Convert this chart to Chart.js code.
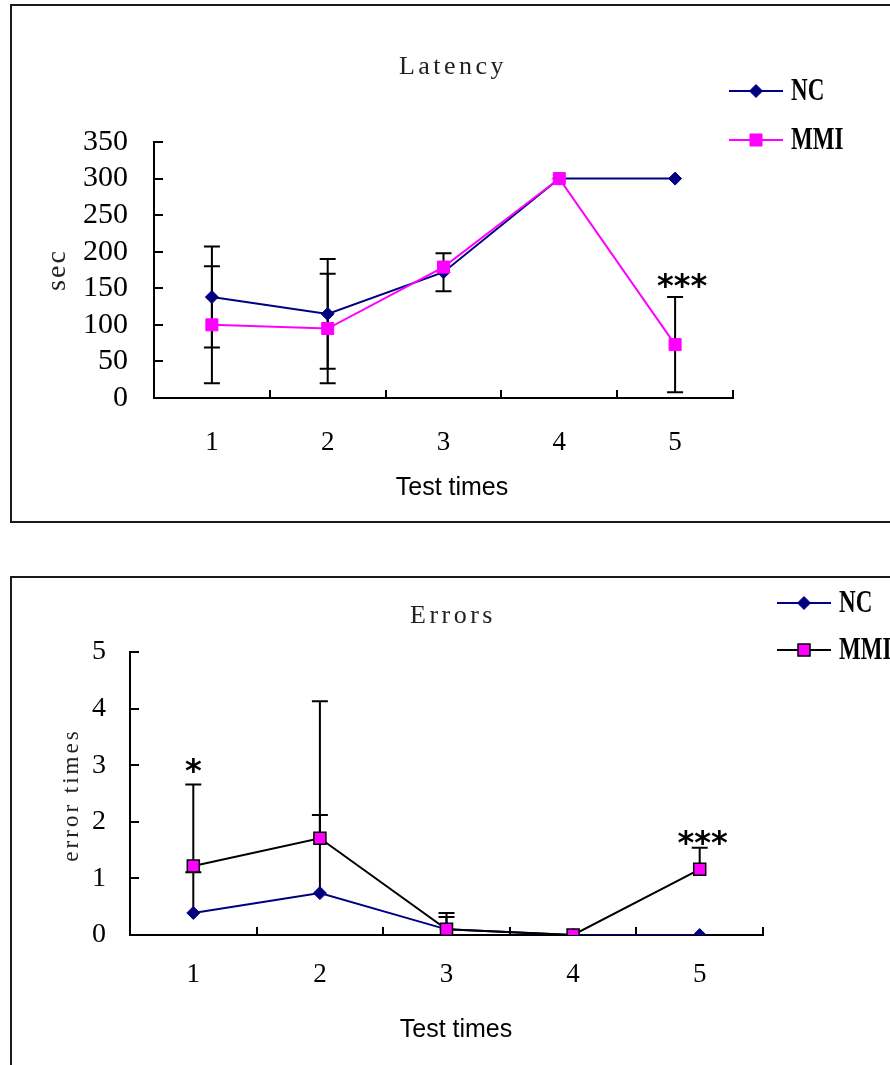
<!DOCTYPE html>
<html>
<head>
<meta charset="utf-8">
<script src="https://cdn.jsdelivr.net/npm/chart.js@4.4.0/dist/chart.umd.min.js"></script>
<style>
  body { margin: 0; background: #fff; overflow: hidden; }
  .box { position: absolute; left: 10px; width: 900px; box-sizing: border-box; border: 2px solid #1a1a1a; }
  canvas { display: block; }
</style>
</head>
<body>
<div class="box" style="top:4px;height:519px"><canvas id="latency" width="878" height="513"></canvas></div>
<div class="box" style="top:576px;height:520px"><canvas id="errors" width="878" height="489"></canvas></div>
<script>
// Datos
const testTimes = ['1', '2', '3', '4', '5'];

// Latency (sec)
const latNC = [138, 115, 172, 300, 300];
const latMMI = [100, 95, 179, 300, 73];
const latNCerr = [69, 75, 26, 0, 0];
const latMMIerr = [80, 75, 0, 0, 65];

// Errors (error times)
const errNC = [0.39, 0.74, 0.1, 0, 0];
const errMMI = [1.22, 1.71, 0.1, 0, 1.16];
const errNCerr = [0.72, 1.38, 0.22, 0, 0];
const errMMIerr = [1.44, 2.42, 0.29, 0, 0.38];

const NAVY = '#000080';
const MAGENTA = '#ff00ff';

// plugin: barras de error, titulos, leyenda y asteriscos
const decor = {
    id: 'decor',
    beforeDatasetsDraw(chart, args, opts) {
        const { ctx, chartArea, scales: { x, y } } = chart;
        ctx.save();
        ctx.beginPath();
        ctx.rect(chartArea.left, chartArea.top - 4, chartArea.width, chartArea.height + 4);
        ctx.clip();
        ctx.strokeStyle = '#000';
        ctx.lineWidth = 2;
        opts.errors.forEach((errs, di) => {
            const vals = chart.data.datasets[di].data;
            errs.forEach((e, i) => {
                if (!e) return;
                const px = x.getPixelForValue(i);
                const top = y.getPixelForValue(vals[i] + e);
                const bot = opts.plusOnly ? y.getPixelForValue(vals[i]) : y.getPixelForValue(vals[i] - e);
                ctx.beginPath();
                ctx.moveTo(px, top); ctx.lineTo(px, bot);
                ctx.moveTo(px - 8, top); ctx.lineTo(px + 8, top);
                if (!opts.plusOnly) { ctx.moveTo(px - 8, bot); ctx.lineTo(px + 8, bot); }
                ctx.stroke();
            });
        });
        ctx.restore();
    },
    afterDraw(chart, args, opts) {
        const { ctx, scales: { x, y } } = chart;
        ctx.save();
        ctx.textAlign = 'center';
        ctx.textBaseline = 'middle';

        // titulo
        ctx.save();
        ctx.fillStyle = '#222';
        ctx.font = '26px "Liberation Serif"';
        ctx.letterSpacing = '3.5px';
        ctx.fillText(opts.title.text, opts.title.x, opts.title.y);
        ctx.restore();

        // titulos de ejes
        ctx.fillStyle = '#000';
        ctx.font = '25px "Liberation Sans"';
        ctx.fillText('Test times', opts.xTitle.x, opts.xTitle.y);
        ctx.save();
        ctx.translate(opts.yTitle.x, opts.yTitle.y);
        ctx.rotate(-Math.PI / 2);
        ctx.fillStyle = '#222';
        ctx.font = opts.yTitle.size + 'px "Liberation Serif"';
        ctx.letterSpacing = opts.yTitle.spacing + 'px';
        ctx.fillText(opts.yTitle.text, 0, 0);
        ctx.restore();

        // leyenda
        chart.data.datasets.forEach((ds, i) => {
            const ly = opts.legend.y + i * opts.legend.gap;
            const lx = opts.legend.x;
            ctx.strokeStyle = ds.borderColor;
            ctx.lineWidth = 2;
            ctx.beginPath();
            ctx.moveTo(lx, ly); ctx.lineTo(lx + 54, ly);
            ctx.stroke();
            ctx.fillStyle = ds.pointBackgroundColor;
            ctx.strokeStyle = ds.pointBorderColor;
            ctx.lineWidth = ds.pointBorderWidth;
            Chart.helpers.drawPoint(ctx, {
                pointStyle: ds.pointStyle, radius: ds.pointRadius,
                rotation: 0, borderWidth: ds.pointBorderWidth
            }, lx + 27, ly);
            ctx.save();
            ctx.translate(lx + 62, ly);
            ctx.scale(0.72, 1);
            ctx.fillStyle = '#000';
            ctx.textAlign = 'left';
            ctx.font = 'bold 32px "Liberation Serif"';
            ctx.fillText(ds.label, 0, 1);
            ctx.restore();
        });

        // asteriscos de significancia
        ctx.fillStyle = '#000';
        ctx.font = 'bold 32px "DejaVu Sans"';
        opts.stars.forEach(s => {
            const v = chart.data.datasets[s.ds].data[s.i] + opts.errors[s.ds][s.i];
            ctx.fillText(s.text, x.getPixelForValue(s.i) + s.dx, y.getPixelForValue(v) - s.gap);
        });
        ctx.restore();
    }
};

function makeScales(yMax, yStep, yWidth, xHeight, yFont, yPad, xPad) {
    return {
        x: {
            offset: true,
            grid: { offset: true, drawOnChartArea: false, tickLength: -8, color: '#000', lineWidth: 2 },
            border: { color: '#000', width: 2 },
            ticks: { color: '#000', padding: xPad, autoSkip: false, font: { family: 'Liberation Serif', size: 27 } },
            afterFit: s => { s.height = xHeight; }
        },
        y: {
            min: 0, max: yMax,
            grid: { drawOnChartArea: false, tickLength: -9, color: '#000', lineWidth: 2 },
            border: { color: '#000', width: 2 },
            ticks: { stepSize: yStep, color: '#000', padding: yPad, autoSkip: false, font: { family: 'Liberation Serif', size: yFont } },
            afterFit: s => { s.width = yWidth; }
        }
    };
}

// grafica de latencia
new Chart(document.getElementById('latency').getContext('2d'), {
    type: 'line',
    data: {
        labels: testTimes,
        datasets: [{
            label: 'NC', data: latNC, order: 2,
            borderColor: NAVY, borderWidth: 2, tension: 0,
            pointStyle: 'rectRot', pointRadius: 6.5,
            pointBackgroundColor: NAVY, pointBorderColor: NAVY, pointBorderWidth: 1
        }, {
            label: 'MMI', data: latMMI, order: 1,
            borderColor: MAGENTA, borderWidth: 2, tension: 0,
            pointStyle: 'rect', pointRadius: 8.5,
            pointBackgroundColor: MAGENTA, pointBorderColor: MAGENTA, pointBorderWidth: 1
        }]
    },
    options: {
        responsive: false,
        animation: false,
        events: [],
        layout: { padding: { left: 0, right: 157, top: 136, bottom: 0 } },
        scales: makeScales(350, 50, 142, 121, 30, 35, 37),
        plugins: {
            legend: { display: false },
            tooltip: { enabled: false },
            decor: {
                errors: [latNCerr, latMMIerr],
                plusOnly: false,
                title: { text: 'Latency', x: 441, y: 61 },
                xTitle: { x: 440, y: 482 },
                yTitle: { text: 'sec', x: 46, y: 264, size: 28, spacing: 2 },
                legend: { x: 717, y: 85, gap: 49 },
                stars: [{ ds: 1, i: 4, text: '***', dx: 7, gap: 9 }]
            }
        }
    },
    plugins: [decor]
});

// grafica de errores
new Chart(document.getElementById('errors').getContext('2d'), {
    type: 'line',
    data: {
        labels: testTimes,
        datasets: [{
            label: 'NC', data: errNC, order: 2,
            borderColor: NAVY, borderWidth: 2, tension: 0,
            pointStyle: 'rectRot', pointRadius: 6.5,
            pointBackgroundColor: NAVY, pointBorderColor: NAVY, pointBorderWidth: 1
        }, {
            label: 'MMI', data: errMMI, order: 1,
            borderColor: '#000', borderWidth: 2, tension: 0,
            pointStyle: 'rect', pointRadius: 8.5,
            pointBackgroundColor: MAGENTA, pointBorderColor: '#000', pointBorderWidth: 1.5
        }]
    },
    options: {
        responsive: false,
        animation: false,
        events: [],
        layout: { padding: { left: 0, right: 127, top: 74, bottom: 0 } },
        scales: makeScales(5, 1, 118, 132, 28, 33, 32),
        plugins: {
            legend: { display: false },
            tooltip: { enabled: false },
            decor: {
                errors: [errNCerr, errMMIerr],
                plusOnly: true,
                title: { text: 'Errors', x: 441, y: 38 },
                xTitle: { x: 444, y: 452 },
                yTitle: { text: 'error times', x: 60, y: 217, size: 23, spacing: 3 },
                legend: { x: 765, y: 25, gap: 47 },
                stars: [
                    { ds: 1, i: 0, text: '*', dx: 0, gap: 12 },
                    { ds: 1, i: 4, text: '***', dx: 3, gap: 3 }
                ]
            }
        }
    },
    plugins: [decor]
});
</script>
</body>
</html>
